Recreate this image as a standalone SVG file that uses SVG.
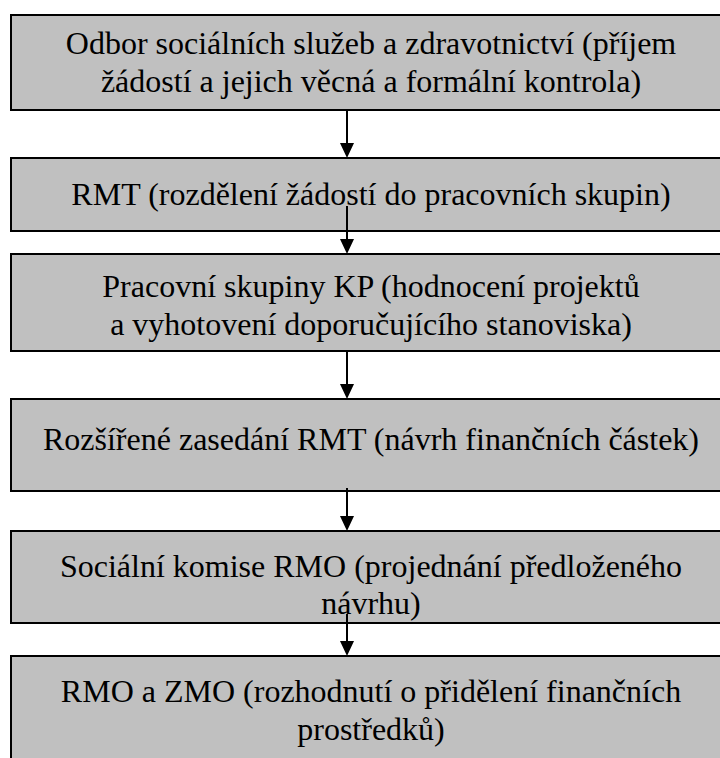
<svg xmlns="http://www.w3.org/2000/svg" width="720" height="758" viewBox="0 0 720 758">
<style>
.box{fill:#c0c0c0;stroke:#000;stroke-width:2}
.t{font-size:32px;fill:#000;text-anchor:middle}
.c{stroke:#000;stroke-width:2;fill:none}
.h{fill:#000}
</style>
<rect width="720" height="758" fill="#fff"/>
<g font-family="Liberation Serif, Times New Roman, DejaVu Serif, serif">
<g id="n1">
<rect class="box" x="11" y="15" width="722" height="95"/>
<text class="t" x="371" y="54">Odbor sociálních služeb a zdravotnictví (příjem</text>
<text class="t" x="371" y="92">žádostí a jejich věcná a formální kontrola)</text>
</g>
<g id="n2">
<rect class="box" x="11" y="158" width="722" height="73"/>
<text class="t" x="371" y="205">RMT (rozdělení žádostí do pracovních skupin)</text>
</g>
<g id="n3">
<rect class="box" x="11" y="254" width="722" height="97"/>
<text class="t" x="371" y="297">Pracovní skupiny KP (hodnocení projektů</text>
<text class="t" x="371" y="335">a vyhotovení doporučujícího stanoviska)</text>
</g>
<g id="n4">
<rect class="box" x="11" y="399" width="722" height="92"/>
<text class="t" x="371" y="450">Rozšířené zasedání RMT (návrh finančních částek)</text>
</g>
<g id="n5">
<rect class="box" x="11" y="531" width="722" height="92"/>
<text class="t" x="371" y="577">Sociální komise RMO (projednání předloženého</text>
<text class="t" x="371" y="614">návrhu)</text>
</g>
<g id="n6">
<rect class="box" x="11" y="656" width="722" height="120"/>
<text class="t" x="371" y="702">RMO a ZMO (rozhodnutí o přidělení finančních</text>
<text class="t" x="371" y="740">prostředků)</text>
</g>
</g>
<g id="connectors">
<line class="c" x1="347" y1="110" x2="347" y2="144"/>
<polygon class="h" points="340,143 354,143 347,158"/>
<line class="c" x1="347" y1="206" x2="347" y2="240"/>
<polygon class="h" points="340,239 354,239 347,254"/>
<line class="c" x1="347" y1="351" x2="347" y2="385"/>
<polygon class="h" points="340,384 354,384 347,399"/>
<line class="c" x1="347" y1="488" x2="347" y2="517"/>
<polygon class="h" points="340,516 354,516 347,531"/>
<line class="c" x1="347" y1="614" x2="347" y2="642"/>
<polygon class="h" points="340,641 354,641 347,656"/>
</g>
</svg>
